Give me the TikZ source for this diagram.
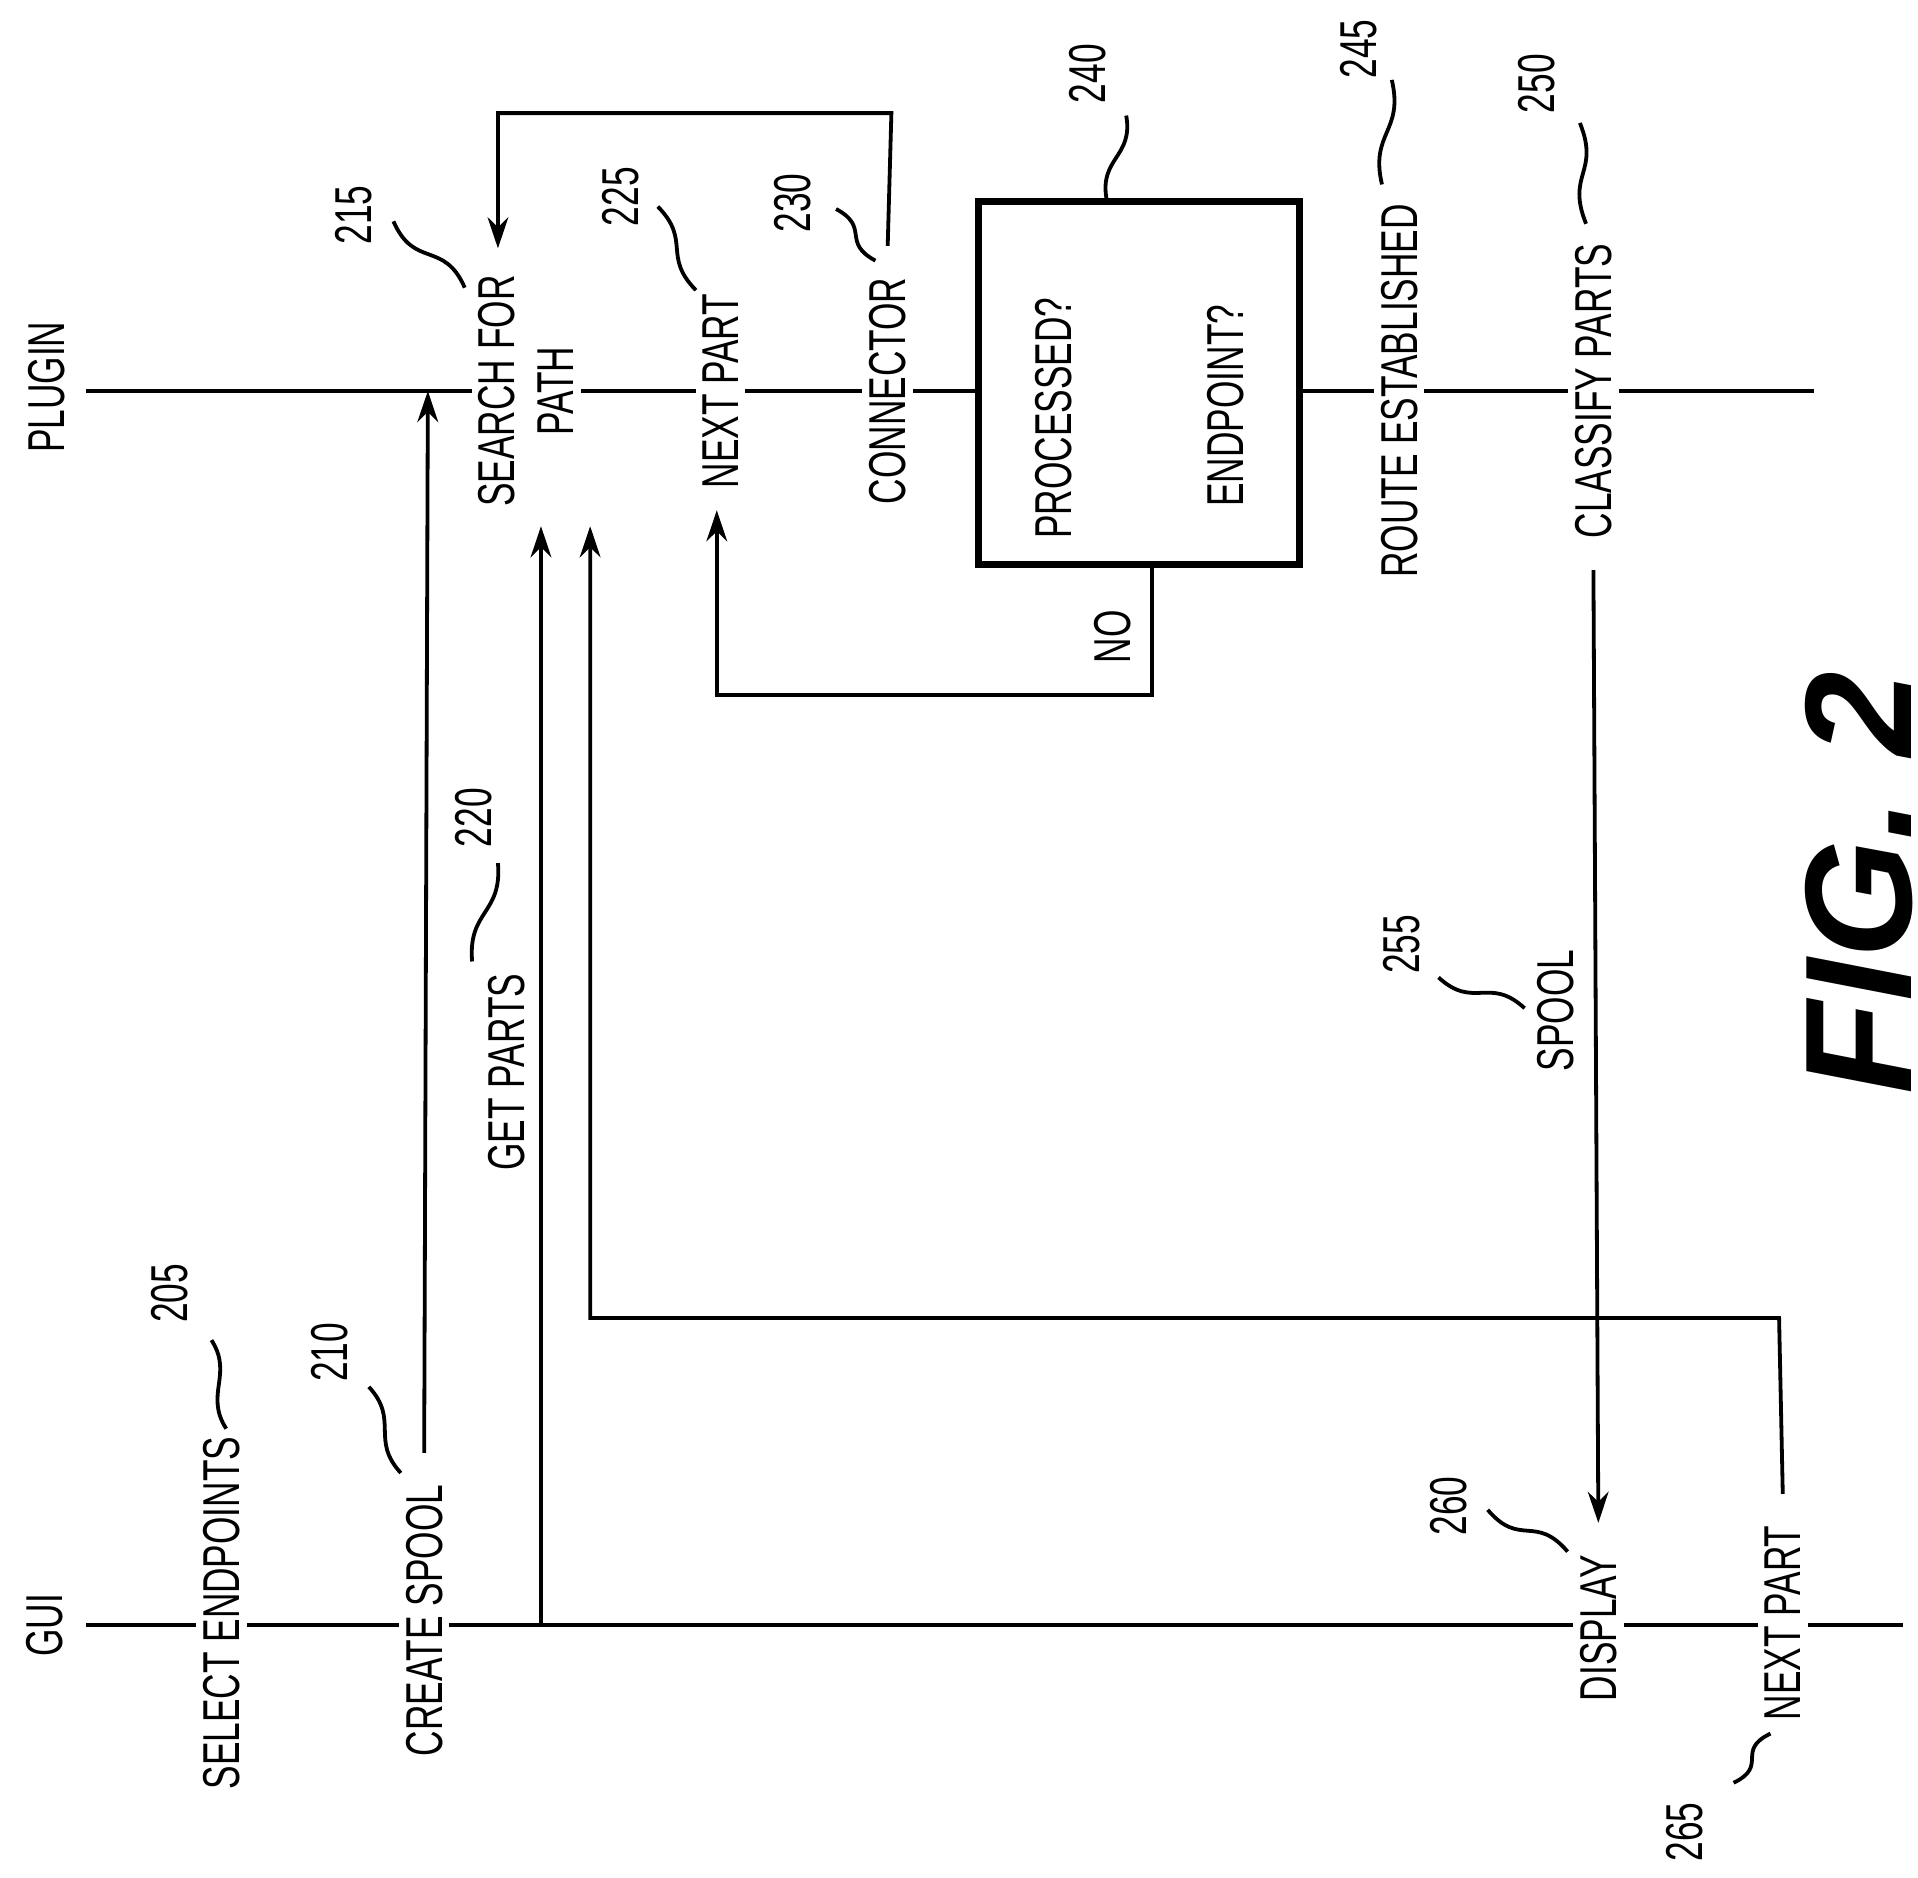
\documentclass[tikz,border=0pt]{standalone}
\usepackage{fontspec}
\setmainfont{Liberation Sans}[FakeStretch=0.68]
\newfontfamily\figfont{Liberation Sans}
\usetikzlibrary{positioning,calc,arrows.meta}
\tikzset{
  lbl/.style = {rotate=90, fill=white, inner xsep=9pt, inner ysep=2pt, font=\fontsize{15}{17}\selectfont, align=center},
  num/.style = {rotate=90, inner sep=1pt, font=\fontsize{15}{17}\selectfont},
  wire/.style = {line width=1.1pt},
  flow/.style = {line width=1.1pt, -{Stealth[length=9pt,width=6pt]}},
}
% reference numeral with wavy leader: position, leader start, leader end
\newcommand{\refnum}[5]{%
  \node[num] at (#2) {#1};
  \draw[wire] (#3) .. controls ($(#3)!0.5!(#4)+(#5)$) and ($(#3)!0.5!(#4)-(#5)$) .. (#4);
}
\begin{document}
\begin{tikzpicture}[x=0.0125cm, y=-0.0125cm]
  \useasboundingbox (0,0) rectangle (1560,1527);

  % lifelines
  \draw[wire] (70,318) -- (1475,318);
  \draw[wire] (70,1322) -- (1548,1322);
  \node[num] (plugin) at (38,315) {PLUGIN};
  \node[num] (gui) at (36,1322) {GUI};

  % plugin side
  \node[lbl] (search) at (428,318) {SEARCH FOR\\PATH};
  \node[lbl] (nextp) at (586,318) {NEXT PART};
  \node[lbl] (conn) at (722,318) {CONNECTOR};
  \draw[line width=2.2pt, fill=white] (796,164) rectangle (1057,459);
  \node[num] (proc) at (857,340) {PROCESSED?};
  \node[num] (endp) at (997,330) {ENDPOINT?};
  \node[lbl] (route) at (1138,318) {ROUTE ESTABLISHED};
  \node[lbl] (classify) at (1296,318) {CLASSIFY PARTS};

  % gui side
  \node[lbl] (select) at (180,1312) {SELECT ENDPOINTS};
  \node[lbl] (create) at (345,1318) {CREATE SPOOL};
  \node[lbl] (display) at (1300,1324) {DISPLAY};
  \node[lbl] (nextg) at (1450,1320) {NEXT PART};

  % messages
  \draw[flow] (create.east) -- (348,318);
  \node[lbl] (getparts) at (412,872) {GET PARTS};
  \draw[flow] (440,1322) -- (440,428);
  \draw[flow] (nextg.east) -- (1447,1072) -- (480,1072) -- (480,428);
  \draw[flow] (classify.west) -- (display.east);
  \node[lbl] (spool) at (1265,822) {SPOOL};
  \draw[flow] (conn.east) -- (725,92) -- (405,92) -- (405,202);
  \draw[flow] (937,459) -- (937,565) -- (583,565) -- (583,415);
  \node[num] (no) at (905,518) {NO};

  % reference numerals
  \refnum{205}{138,1052}{172,1090}{184,1162}{12,-8}
  \refnum{210}{268,1100}{300,1128}{326,1198}{12,-8}
  \refnum{215}{288,175}{320,180}{378,234}{-12,12}
  \refnum{220}{385,665}{405,702}{384,782}{14,2}
  \refnum{225}{505,160}{535,168}{566,236}{12,-6}
  \refnum{230}{645,165}{680,170}{712,212}{12,-6}
  \refnum{240}{885,60}{916,94}{900,162}{14,0}
  \refnum{245}{1105,40}{1132,65}{1124,150}{14,0}
  \refnum{250}{1250,68}{1285,100}{1290,182}{14,0}
  \refnum{255}{1140,768}{1170,795}{1240,820}{-6,14}
  \refnum{260}{1178,1225}{1210,1228}{1275,1262}{-6,14}
  \refnum{265}{1370,1490}{1410,1450}{1440,1410}{14,6}

  \node[rotate=90, font=\figfont\bfseries\itshape\fontsize{44}{46}\selectfont] (fig) at (1512,718) {FIG. 2};
\end{tikzpicture}
\end{document}
